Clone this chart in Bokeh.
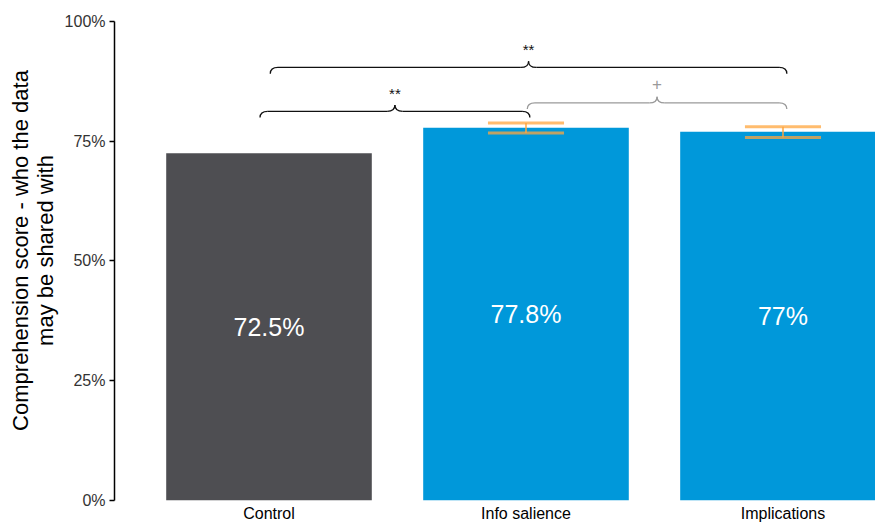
import numpy as np
from bokeh.plotting import figure
from bokeh.models import Range1d, FixedTicker, ColumnDataSource
from bokeh.core.properties import value
from bokeh.embed import file_html
from bokeh.resources import INLINE

# ---- data ----
categories = ["Control", "Info salience", "Implications"]
scores = [72.5, 77.8, 77.0]
score_labels = ["72.5%", "77.8%", "77%"]
bar_colors = ["#4E4E52", "#0098DA", "#0098DA"]
err_upper = [None, 78.8, 78.0]
err_lower = [None, 76.7, 75.8]
y_ticks = [0, 25, 50, 75, 100]
y_tick_labels = ["0%", "25%", "50%", "75%", "100%"]
# significance brackets: (from index, to index, level, label, color)
brackets = [
    (0, 1, 81.25, "**", "#111111"),
    (0, 2, 90.4, "**", "#111111"),
    (1, 2, 83.0, "+", "#9A9A9A"),
]

FONT = "Liberation Sans"
xs = [1, 2, 3]

p = figure(width=875, height=524, output_backend="svg", toolbar_location=None,
           x_range=Range1d(0.3988, 3.36), y_range=Range1d(0, 104.375),
           min_border_left=114, min_border_right=0, min_border_top=0,
           min_border_bottom=0)
p.outline_line_color = None
p.grid.visible = False
p.background_fill_color = "white"
p.border_fill_color = "white"

src = ColumnDataSource(dict(x=xs, top=scores, color=bar_colors,
                            label=score_labels, mid=[s / 2 for s in scores]))
p.vbar(x="x", top="top", bottom=0, width=0.8, fill_color="color",
       line_color=None, source=src)
p.text(x="x", y="mid", text="label", source=src, text_color="white",
       text_font=value(FONT), text_font_size="25px", text_align="center",
       text_baseline="middle")

# error bars
ex = [xs[i] for i in range(3) if err_upper[i] is not None]
eu = [err_upper[i] for i in range(3) if err_upper[i] is not None]
el = [err_lower[i] for i in range(3) if err_upper[i] is not None]
cap = 0.148
ecol = "#FFA63D"
p.segment(x0=ex, x1=ex, y0=el, y1=eu, line_color=ecol, line_alpha=0.75, line_width=2)
p.segment(x0=[x - cap for x in ex], x1=[x + cap for x in ex], y0=eu, y1=eu,
          line_color=ecol, line_alpha=0.75, line_width=3)
p.segment(x0=[x - cap for x in ex], x1=[x + cap for x in ex], y0=el, y1=el,
          line_color=ecol, line_alpha=0.75, line_width=3)

# curly brackets
rx, ry = 0.03, 1.3
for i0, i1, lev, lab, col in brackets:
    x0 = xs[i0] - (0.04 if (i0 == 0 and i1 == 1) else 0.0) + 0.005
    x1 = xs[i1] + 0.015
    xm = (x0 + x1) / 2
    yb = lev
    ye = lev - ry
    yt = lev + ry
    kw = dict(line_color=col, line_width=1.3)
    p.quadratic(x0=[x0, xm - rx, xm, x1], y0=[ye, yb, yt, ye],
                x1=[x0 + rx, xm, xm + rx, x1 - rx], y1=[yb, yt, yb, yb],
                cx=[x0, xm, xm, x1], cy=[yb, yb, yb, yb], **kw)
    p.segment(x0=[x0 + rx, xm + rx], x1=[xm - rx, x1 - rx], y0=[yb, yb], y1=[yb, yb], **kw)
    p.text(x=[xm], y=[yt + 0.6], text=[lab], text_color=col, text_font=value(FONT),
           text_font_size="17px" if lab == "+" else "15px",
           y_offset=-4 if lab == "+" else 0,
           text_align="center", text_baseline="bottom")

# axes
ya = p.yaxis[0]
ya.ticker = FixedTicker(ticks=y_ticks)
ya.major_label_overrides = {t: l for t, l in zip(y_ticks, y_tick_labels)}
ya.bounds = (0, 100)
ya.axis_line_width = 1.5
ya.axis_line_color = "black"
ya.major_tick_in = 0
ya.major_tick_out = 5
ya.major_tick_line_width = 1.5
ya.minor_tick_line_color = None
ya.major_label_text_font = FONT
ya.major_label_text_font_size = "16px"
ya.major_label_text_color = "#333333"
ya.major_label_standoff = 4
ya.axis_label = "Comprehension score - who the data\nmay be shared with"
ya.axis_label_text_font = FONT
ya.axis_label_text_font_size = "22px"
ya.axis_label_text_font_style = "normal"
ya.axis_label_text_color = "black"
ya.axis_label_text_line_height = 1.0
ya.axis_label_standoff = 4

xa = p.xaxis[0]
xa.ticker = FixedTicker(ticks=xs)
xa.major_label_overrides = {x: c for x, c in zip(xs, categories)}
xa.axis_line_color = None
xa.major_tick_line_color = None
xa.major_tick_out = 0
xa.major_tick_in = 0
xa.minor_tick_line_color = None
xa.minor_tick_out = 0
xa.major_label_text_font = FONT
xa.major_label_text_font_size = "16px"
xa.major_label_text_color = "black"
xa.major_label_standoff = 4

open("out.html", "w").write(file_html(p, INLINE))
